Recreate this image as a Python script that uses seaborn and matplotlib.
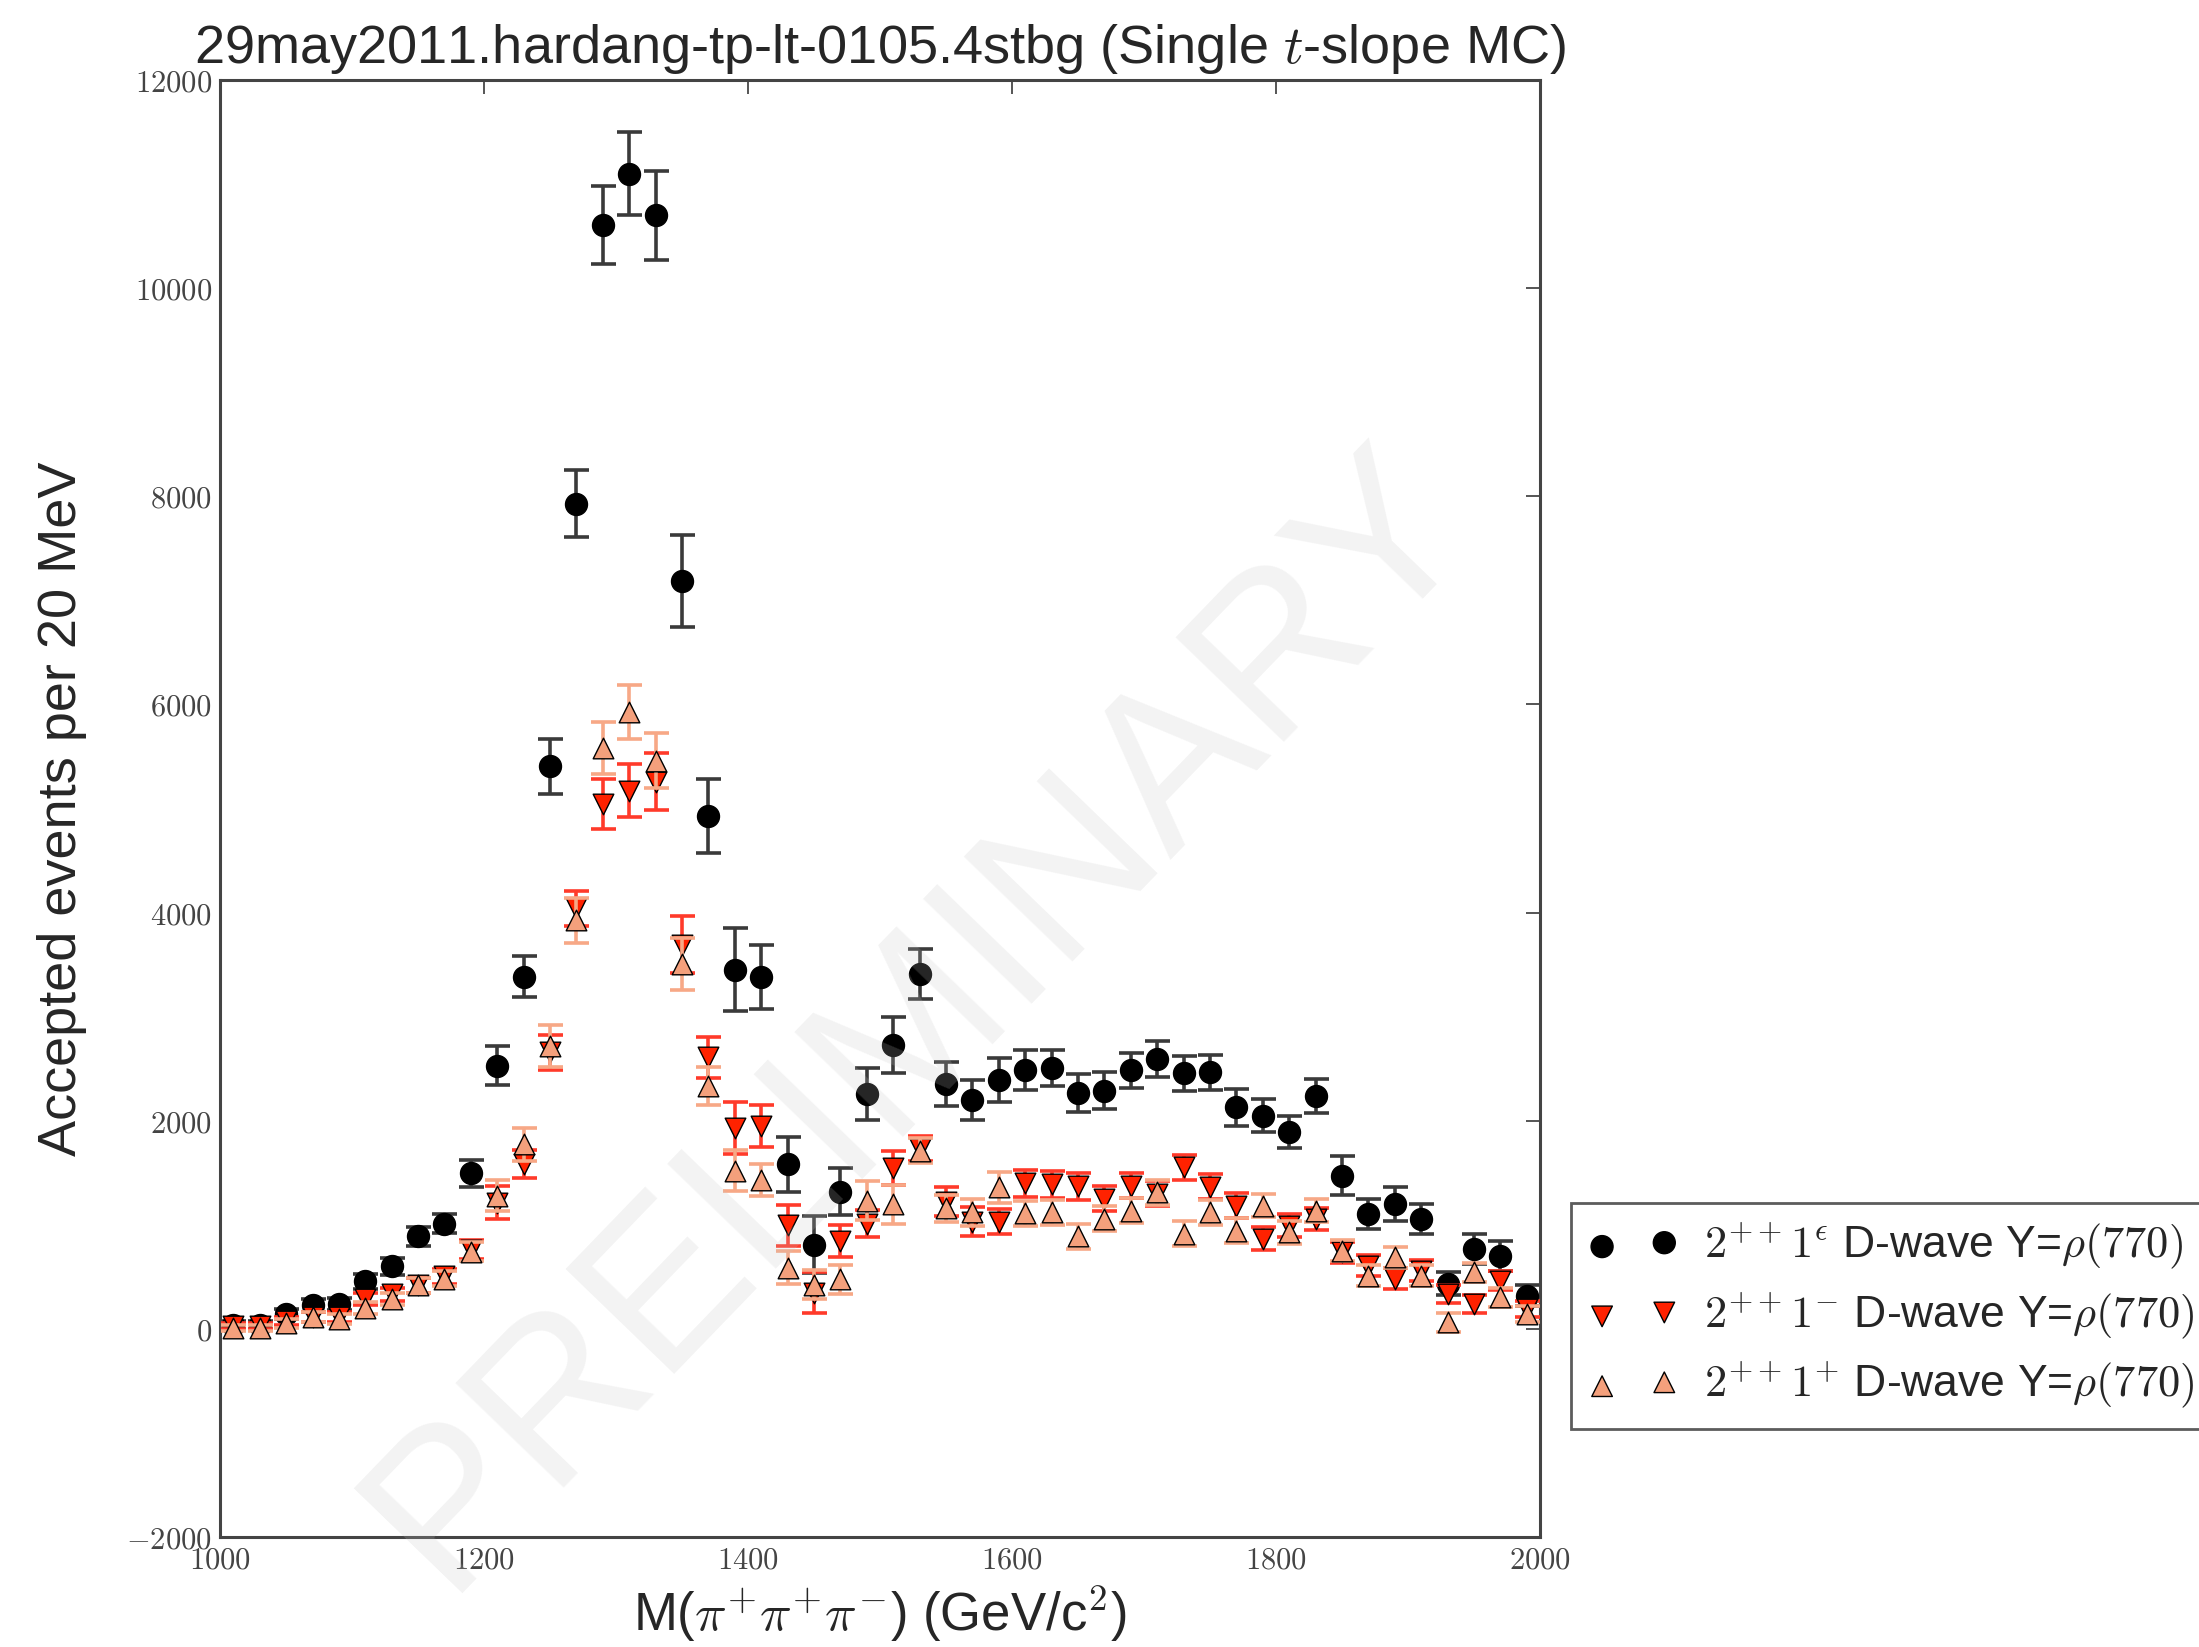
import numpy as np
import pandas as pd
import matplotlib
matplotlib.use("Agg")
import matplotlib.pyplot as plt
import seaborn as sns

mass = [1010, 1030, 1050, 1070, 1090, 1110, 1130, 1150, 1170, 1190,
        1210, 1230, 1250, 1270, 1290, 1310, 1330, 1350, 1370, 1390,
        1410, 1430, 1450, 1470, 1490, 1510, 1530, 1550, 1570, 1590,
        1610, 1630, 1650, 1670, 1690, 1710, 1730, 1750, 1770, 1790,
        1810, 1830, 1850, 1870, 1890, 1910, 1930, 1950, 1970, 1990]

eps_vals = [40, 40, 140, 225, 240, 455, 600, 890, 1010, 1495,
            2530, 3385, 5405, 7930, 10610, 11100, 10700, 7185, 4925, 3450,
            3380, 1580, 810, 1317, 2255, 2725, 3410, 2350, 2200, 2390,
            2485, 2505, 2265, 2290, 2486, 2592, 2454, 2464, 2128, 2048,
            1888, 2240, 1472, 1104, 1200, 1056, 432, 768, 704, 320]
eps_errs = [40, 40, 50, 60, 60, 70, 80, 90, 90, 130,
            190, 200, 267, 324, 375, 400, 430, 442, 355, 400,
            306, 263, 270, 225, 250, 267, 243, 212, 195, 210,
            190, 175, 180, 175, 168, 176, 171, 171, 176, 160,
            155, 163, 187, 144, 166, 141, 110, 144, 144, 100]

minus_vals = [30, 30, 73, 116, 116, 288, 331, 417, 504, 762,
              1214, 1580, 2656, 4041, 5044, 5173, 5259, 3692, 2608, 1932,
              1947, 994, 349, 846, 1011, 1545, 1729, 1221, 1030, 1030,
              1398, 1390, 1370, 1248, 1376, 1296, 1552, 1366, 1184, 864,
              992, 1056, 736, 608, 480, 560, 336, 240, 464, 192]
minus_errs = [30, 30, 40, 50, 50, 60, 60, 70, 70, 90,
              160, 135, 172, 170, 243, 250, 270, 275, 200, 250,
              200, 200, 200, 155, 130, 165, 120, 140, 140, 120,
              130, 130, 130, 120, 120, 120, 120, 120, 120, 110,
              110, 110, 100, 100, 100, 100, 90, 90, 90, 80]

plus_vals = [9, 9, 52, 116, 95, 202, 288, 417, 482, 740,
             1278, 1773, 2720, 3925, 5582, 5926, 5461, 3505, 2334, 1520,
             1430, 589, 423, 478, 1232, 1195, 1710, 1159, 1122, 1361,
             1111, 1120, 890, 1056, 1136, 1312, 912, 1120, 944, 1184,
             928, 1136, 752, 512, 688, 512, 64, 544, 304, 144]
plus_errs = [30, 30, 40, 50, 50, 60, 60, 70, 70, 90,
             150, 160, 200, 215, 248, 258, 260, 250, 185, 200,
             150, 160, 140, 140, 185, 185, 120, 130, 130, 150,
             120, 120, 120, 120, 120, 120, 120, 120, 120, 110,
             110, 110, 100, 100, 100, 100, 90, 90, 90, 80]

labels = [r"$2^{++}1^{\epsilon}$ D-wave Y=$\rho(770)$",
          r"$2^{++}1^{-}$ D-wave Y=$\rho(770)$",
          r"$2^{++}1^{+}$ D-wave Y=$\rho(770)$"]

sns.set_style("white")
plt.rcParams['font.family'] = ['Liberation Sans', 'DejaVu Sans']
plt.rcParams['mathtext.fontset'] = 'cm'

fig = plt.figure(figsize=(21.99, 16.47), dpi=100)
ax = fig.add_axes([0.1001, 0.0668, 0.6002, 0.8846])

series = [
    (eps_vals, eps_errs, 'o', 'black', '#3a3a3a', labels[0]),
    (minus_vals, minus_errs, 'v', '#ff2200', '#ff3a2a', labels[1]),
    (plus_vals, plus_errs, '^', '#f4a07c', '#f7a886', labels[2]),
]
for z, (vals, errs, mk, col, ecol, lab) in enumerate(series):
    df = pd.DataFrame({'m': mass, 'v': vals, 'e': errs})
    ax.errorbar(df['m'], df['v'], yerr=df['e'], fmt='none', ecolor=ecol,
                elinewidth=2.6, capsize=9, capthick=2.6, zorder=2 + 2 * z)
    sns.scatterplot(data=df, x='m', y='v', marker=mk, color=col,
                    s=250 if mk == 'o' else 220,
                    edgecolor='black', linewidth=1.0, ax=ax, label=lab,
                    zorder=3 + 2 * z)

ax.set_xlim(1000, 2000)
ax.set_ylim(-2000, 12000)
xt = [1000, 1200, 1400, 1600, 1800, 2000]
yt = [-2000, 0, 2000, 4000, 6000, 8000, 10000, 12000]
ax.set_xticks(xt)
ax.set_yticks(yt)
ax.set_xticklabels([r"$%d$" % t for t in xt], fontsize=22, color='#444444')
ax.set_yticklabels([r"$%d$" % t for t in yt], fontsize=22, color='#444444')
ax.tick_params(direction='in', length=10, width=1.4, top=True, right=True,
               color='#555555', pad=6)
for sp in ax.spines.values():
    sp.set_linewidth(2.2)
    sp.set_color('#444444')

ax.set_xlabel(r"M($\pi^{+}\pi^{+}\pi^{-}$) (GeV/c$^{2}$)", fontsize=38, labelpad=6)
ax.set_ylabel("Accepted events per 20 MeV", fontsize=39, labelpad=28)
ax.set_title(r"29may2011.hardang-tp-lt-0105.4stbg (Single $t$-slope MC)",
             fontsize=39, pad=12)

ax.text(0.53, 0.355, "PRELIMINARY", transform=ax.transAxes, fontsize=158,
        color='#c4c4c4', alpha=0.2, rotation=46, ha='center', va='center',
        zorder=20)

leg = ax.legend(loc='upper left', bbox_to_anchor=(0.7144, 0.2696),
                bbox_transform=fig.transFigure, scatterpoints=2, fontsize=32,
                frameon=True, fancybox=False, borderpad=0.4, labelspacing=0.42,
                handletextpad=0.6, borderaxespad=0)
leg.get_frame().set_edgecolor('#333333')
leg.get_frame().set_linewidth(2.0)

fig.savefig("out.png", dpi=100, facecolor='white')
